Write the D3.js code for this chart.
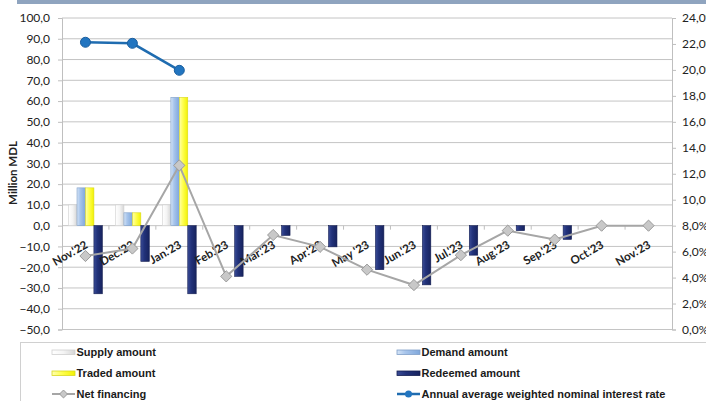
<!DOCTYPE html>
<html><head><meta charset="utf-8">
<script src="https://cdn.jsdelivr.net/npm/d3@7"></script>
<style>html,body{margin:0;padding:0;background:#fff;overflow:hidden}</style>
</head><body><svg id="c" width="706" height="401"></svg>
<script>
const categories = ["Nov.'22","Dec.'22","Jan.'23","Feb.'23","Mar.'23","Apr.'23","May '23","Jun.'23","Jul.'23","Aug.'23","Sep.'23","Oct.'23","Nov.'23"];
const supplyAmount   = [10, 10, 10, 0, 0, 0, 0, 0, 0, 0, 0, 0, 0];
const demandAmount   = [18.2, 6.2, 61.8, 0, 0, 0, 0, 0, 0, 0, 0, 0, 0];
const tradedAmount   = [18.2, 6.2, 61.8, 0, 0, 0, 0, 0, 0, 0, 0, 0, 0];
const redeemedAmount = [-32.8, -17.2, -32.8, -24.4, -4.7, -10.2, -21.2, -28.5, -14.2, -2.4, -6.6, 0, 0];
const netFinancing   = [-14.6, -11.0, 29.0, -24.4, -4.5, -10.2, -21.2, -28.6, -14.2, -2.4, -6.7, 0, 0];
const interestRate   = [22.13, 22.05, 19.97, null, null, null, null, null, null, null, null, null, null];
const leftTicks  = [100,90,80,70,60,50,40,30,20,10,0,-10,-20,-30,-40,-50];
const rightTicks = [24,22,20,18,16,14,12,10,8,6,4,2,0];
const seriesNames = ["Supply amount","Demand amount","Traded amount","Redeemed amount","Net financing","Annual average weighted nominal interest rate"];

const svg = d3.select("#c");
const L = 62, R = 672, T = 18, B = 329.5;
const fmt1 = v => d3.format(".1f")(v).replace(".", ",");

// top band
svg.append("rect").attr("x",17).attr("y",0).attr("width",689).attr("height",4).attr("fill","#8FA4BF");

const x = d3.scaleBand().domain(categories).range([L, R]).paddingInner(0.28).paddingOuter(0.14);
const x1 = d3.scaleBand().domain([0,1,2,3]).range([0, x.bandwidth()]);
const y = d3.scaleLinear().domain([-50, 100]).range([B, T]);
const y2 = d3.scaleLinear().domain([0, 24]).range([B, T]);

const defs = svg.append("defs");
function grad(id, stops){
  const g = defs.append("linearGradient").attr("id", id).attr("x1","0").attr("x2","1").attr("y1","0").attr("y2","0");
  stops.forEach(([o,c]) => g.append("stop").attr("offset", o).attr("stop-color", c));
}
grad("gS", [[0,"#FFFFFF"],[0.5,"#F4F4F4"],[1,"#D6D6D6"]]);
grad("gD", [[0,"#D5E4F6"],[0.35,"#A9C6EC"],[1,"#7FA7DB"]]);
grad("gT", [[0,"#FFFFB0"],[0.4,"#FFFF55"],[1,"#F2F200"]]);
grad("gR", [[0,"#3A4C96"],[0.4,"#22327A"],[1,"#17235E"]]);
const fills = ["url(#gS)","url(#gD)","url(#gT)","url(#gR)"];
const strokes = ["#CFCFCF","#7F9FC8","#D8D820","#141E52"];

// gridlines
svg.append("g").selectAll("line").data(leftTicks).join("line")
  .attr("x1", L).attr("x2", R).attr("y1", d => y(d)).attr("y2", d => y(d))
  .attr("stroke", "#C4C4C4").attr("stroke-width", 1);

// left axis
const yAxis = d3.axisLeft(y).tickValues(leftTicks).tickFormat(fmt1).tickSize(4).tickPadding(8);
const ga = svg.append("g").attr("transform", `translate(${L},0)`).call(yAxis);
ga.select(".domain").attr("stroke", "#BFBFBF");
ga.selectAll(".tick line").attr("stroke", "#BFBFBF");
ga.selectAll("text").attr("font-family","Lato, sans-serif").attr("font-size", 12).attr("fill","#222");

// right axis
const yAxis2 = d3.axisRight(y2).tickValues(rightTicks).tickFormat(d => fmt1(d) + "%").tickSize(4).tickPadding(6);
const gb = svg.append("g").attr("transform", `translate(${R},0)`).call(yAxis2);
gb.select(".domain").attr("stroke", "#BFBFBF");
gb.selectAll(".tick line").attr("stroke", "#BFBFBF");
gb.selectAll("text").attr("font-family","Lato, sans-serif").attr("font-size", 12).attr("fill","#222");

// x category ticks on zero line
svg.append("g").selectAll("line").data(categories.slice(1)).join("line")
  .attr("x1", d => x(d) - x.step()*x.paddingInner()/2).attr("x2", d => x(d) - x.step()*x.paddingInner()/2)
  .attr("y1", y(0)).attr("y2", y(0)+4).attr("stroke","#BFBFBF");

// bars
const allSeries = [supplyAmount, demandAmount, tradedAmount, redeemedAmount];
const bars = [];
categories.forEach((c, i) => allSeries.forEach((s, k) => { if (s[i] !== 0) bars.push({c, k, v: s[i]}); }));
svg.append("g").selectAll("rect").data(bars).join("rect")
  .attr("x", d => x(d.c) + x1(d.k))
  .attr("width", x1.bandwidth())
  .attr("y", d => y(Math.max(0, d.v)))
  .attr("height", d => Math.abs(y(d.v) - y(0)))
  .attr("fill", d => fills[d.k]).attr("stroke", d => strokes[d.k]).attr("stroke-width", 0.6);

const cx = c => x(c) + x.bandwidth()/2;

// x labels
svg.append("g").selectAll("text").data(categories).join("text")
  .attr("transform", d => `translate(${cx(d)+1},${y(0)+18}) rotate(-30)`)
  .attr("text-anchor","end").attr("dy","0.35em")
  .attr("font-family","Lato, sans-serif").attr("font-weight","bold").attr("font-size", 11.5).attr("fill","#222")
  .text(d => d);

// net financing line
const nf = categories.map((c, i) => ({c, v: netFinancing[i]}));
svg.append("path").datum(nf)
  .attr("d", d3.line().x(d => cx(d.c)).y(d => y(d.v)))
  .attr("fill","none").attr("stroke","#A6A6A6").attr("stroke-width", 2);
const diamond = d3.symbol().type(d3.symbolDiamond2).size(80);
svg.append("g").selectAll("path").data(nf).join("path")
  .attr("transform", d => `translate(${cx(d.c)},${y(d.v)})`)
  .attr("d", diamond).attr("fill","#C8C8C8").attr("stroke","#9A9A9A").attr("stroke-width",1);

// interest rate
const ir = categories.map((c, i) => ({c, v: interestRate[i]})).filter(d => d.v !== null);
svg.append("path").datum(ir)
  .attr("d", d3.line().x(d => cx(d.c)).y(d => y2(d.v)))
  .attr("fill","none").attr("stroke","#1F6CB0").attr("stroke-width", 2.5);
svg.append("g").selectAll("circle").data(ir).join("circle")
  .attr("cx", d => cx(d.c)).attr("cy", d => y2(d.v)).attr("r", 5)
  .attr("fill","#2275C0").attr("stroke","#1A5E9E").attr("stroke-width",1);

// y title
svg.append("text").attr("transform","translate(17,173) rotate(-90)")
  .attr("text-anchor","middle").attr("font-family","Lato, sans-serif").attr("font-weight","bold")
  .attr("font-size", 11.5).attr("fill","#222").text("Million MDL");

// legend
svg.append("rect").attr("x",20.5).attr("y",342.5).attr("width",700).attr("height",70)
  .attr("fill","#fff").attr("stroke","#D0D0D0");
const leg = [
  {n:0, x:52, y:352, type:"bar"}, {n:1, x:397, y:352, type:"bar"},
  {n:2, x:52, y:373, type:"bar"}, {n:3, x:397, y:373, type:"bar"},
  {n:4, x:52, y:394, type:"nf"},  {n:5, x:397, y:394, type:"ir"}
];
const lg = svg.append("g").selectAll("g").data(leg).join("g").attr("transform", d => `translate(${d.x},${d.y})`);
lg.filter(d => d.type==="bar").append("rect").attr("x",0).attr("y",-2).attr("width",23).attr("height",4.5)
  .attr("fill", d => fills[d.n]).attr("stroke", d => strokes[d.n]).attr("stroke-width",0.8);
lg.filter(d => d.type==="nf").append("line").attr("x1",0).attr("x2",23).attr("stroke","#A6A6A6").attr("stroke-width",2);
lg.filter(d => d.type==="nf").append("path").attr("transform","translate(11.5,0)").attr("d", d3.symbol().type(d3.symbolDiamond2).size(40))
  .attr("fill","#C8C8C8").attr("stroke","#9A9A9A");
lg.filter(d => d.type==="ir").append("line").attr("x1",0).attr("x2",23).attr("stroke","#1F6CB0").attr("stroke-width",2.5);
lg.filter(d => d.type==="ir").append("circle").attr("cx",11.5).attr("r",3.5).attr("fill","#2275C0");
lg.append("text").attr("x",24.5).attr("dy","0.35em")
  .attr("font-family","'Liberation Sans', Arial, sans-serif").attr("font-weight","bold").attr("font-size",11).attr("fill","#1a1a1a")
  .text(d => seriesNames[d.n]);
</script></body></html>
